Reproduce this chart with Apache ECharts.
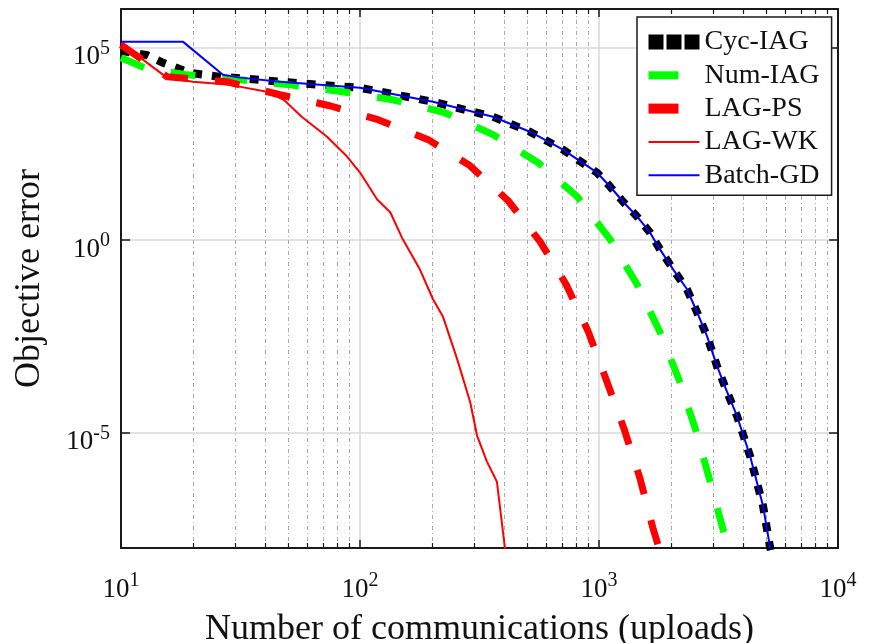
<!DOCTYPE html>
<html>
<head>
<meta charset="utf-8">
<script src="https://cdn.jsdelivr.net/npm/echarts@6/dist/echarts.min.js"></script>
<style>
  html, body { margin: 0; padding: 0; background: #fff; }
  #chart { width: 873px; height: 643px; }
</style>
</head>
<body>
<div id="chart"></div>
<script>
// ---- data (x: communications, y: objective error) ----
const seriesNames = ['Cyc-IAG', 'Num-IAG', 'LAG-PS', 'LAG-WK', 'Batch-GD'];

const cycIAG = [
  [10, 8.2e4], [12.8, 6.4e4], [15.0, 4.0e4], [19.4, 2.2e4], [26.5, 1.7e4], [31.5, 1.6e4],
  [46.2, 1.29e4], [100, 8.97e3], [202, 3.9e3], [360, 1.59e3], [514, 650], [707, 222],
  [982, 56], [1112, 24.5], [1259, 10], [1442, 4.08], [1634, 1.57], [1800, 0.57],
  [2042, 0.173], [2335, 0.0525], [2572, 0.0133], [2831, 3.18e-3], [3118, 5.3e-4],
  [3434, 1.13e-4], [3779, 2.69e-5], [4284, 2.48e-6], [4855, 1.25e-7], [5190, 1.1e-8], [5250, 8e-9]
];

const numIAG = [
  [10, 5.4e4], [12.6, 2.96e4], [18.9, 1.95e4], [31.5, 1.45e4], [50.9, 1.07e4], [84.9, 7.08e3],
  [137, 4.39e3], [227, 2.02e3], [360, 545], [556, 102], [809, 13.5], [1112, 1.04],
  [1442, 0.0708], [1800, 4.04e-3], [2163, 2.31e-4], [2546, 1.1e-5], [2911, 5.6e-7],
  [3467, 1.0e-8], [3520, 7e-9]
];

const lagPS = [
  [10, 1.17e5], [15.6, 1.73e4], [27.8, 1.29e4], [46.2, 5.92e3], [74.8, 3.07e3], [119, 1.33e3],
  [193, 404], [288, 85.7], [416, 10.6], [566, 0.92], [728, 0.0708], [900, 4.29e-3],
  [1069, 2.45e-4], [1273, 1.24e-5], [1486, 6.28e-7], [1683, 3.2e-8], [1782, 1.0e-8], [1810, 7e-9]
];

const lagWK = [
  [10, 1.3e5], [15.6, 1.63e4], [20.0, 1.29e4], [28.6, 1.07e4], [40.8, 7.08e3], [48, 4.39e3],
  [57, 1.59e3], [72.8, 483], [88.3, 147], [100, 56.4], [118, 11.3], [134, 5.19], [151, 1.04],
  [178, 0.173], [202, 0.0289], [222, 0.0105], [255, 8.07e-4], [289, 6.2e-5], [309, 8.2e-6],
  [340, 1.73e-6], [374, 5.25e-7], [404, 1.0e-8], [406, 7e-9]
];

const batchGD = [
  [10, 1.4e5], [18.2, 1.4e5], [26.7, 1.95e4], [31.5, 1.65e4], [46.2, 1.29e4], [100, 8.97e3],
  [202, 3.9e3], [360, 1.59e3], [514, 650], [707, 222], [982, 56], [1112, 24.5], [1259, 10],
  [1442, 4.08], [1634, 1.57], [1800, 0.57], [2042, 0.173], [2335, 0.0525], [2572, 0.0133],
  [2831, 3.18e-3], [3118, 5.3e-4], [3434, 1.13e-4], [3779, 2.69e-5], [4284, 2.48e-6],
  [4855, 1.25e-7], [5190, 1.1e-8], [5250, 8e-9]
];

// ---- axis ticks ----
const xMajorTicks = [10, 100, 1000, 10000];
const xMinorTicks = [20, 30, 40, 50, 60, 70, 80, 90,
                     200, 300, 400, 500, 600, 700, 800, 900,
                     2000, 3000, 4000, 5000, 6000, 7000, 8000, 9000];
const yMajorTicks = [1e-5, 1, 1e5];
const xRange = [10, 10000];
const yRange = [1e-8, 1e6];

const FONT = 'Liberation Serif';
const AXIS_COLOR = '#1a1a1a';

function powLabel(v) {
  const e = Math.round(Math.log10(v));
  return '{b|10}{s|' + e + '}';
}
const labelRich = {
  b: { fontFamily: FONT, fontSize: 27, lineHeight: 32, verticalAlign: 'bottom', color: '#111' },
  s: { fontFamily: FONT, fontSize: 20, lineHeight: 20, verticalAlign: 'top', color: '#111' }
};

const gridRect = { left: 121, right: 35, top: 9, bottom: 95 };

const hiddenSymbol = { color: 'rgba(0,0,0,0)', borderWidth: 0, opacity: 0 };

const chart = echarts.init(document.getElementById('chart'), null, { renderer: 'canvas' });

const option = {
  animation: false,
  backgroundColor: '#ffffff',
  textStyle: { fontFamily: FONT },
  grid: [
    Object.assign({ containLabel: false, outerBoundsMode: 'none' }, gridRect),
    Object.assign({ containLabel: false, outerBoundsMode: 'none' }, gridRect)
  ],
  legend: {
    orient: 'vertical',
    left: 637,
    top: 17,
    padding: [11, 12, 6, 4],
    itemGap: 5.3,
    itemWidth: 51,
    itemHeight: 16,
    backgroundColor: '#ffffff',
    borderColor: AXIS_COLOR,
    borderWidth: 1.5,
    borderRadius: 0,
    textStyle: { fontFamily: FONT, fontSize: 28, lineHeight: 28, color: '#111' },
    data: [
      { name: seriesNames[0], itemStyle: hiddenSymbol, lineStyle: { width: 15, type: [15, 3], cap: 'butt' } },
      { name: seriesNames[1], itemStyle: hiddenSymbol, lineStyle: { width: 8, type: [30, 30], cap: 'butt' } },
      { name: seriesNames[2], itemStyle: hiddenSymbol, lineStyle: { width: 10, type: [30, 30], cap: 'butt' } },
      { name: seriesNames[3], itemStyle: hiddenSymbol, lineStyle: { width: 2 } },
      { name: seriesNames[4], itemStyle: hiddenSymbol, lineStyle: { width: 2 } }
    ]
  },
  xAxis: [
    {
      type: 'log', logBase: 10, gridIndex: 0, position: 'bottom',
      min: xRange[0], max: xRange[1],
      name: 'Number of communications (uploads)',
      nameLocation: 'middle', nameGap: 64,
      nameTextStyle: { fontFamily: FONT, fontSize: 36, color: '#111' },
      axisLine: { show: true, onZero: false, lineStyle: { color: AXIS_COLOR, width: 2 } },
      axisTick: { show: true, inside: true, length: 8, customValues: xMajorTicks, lineStyle: { color: AXIS_COLOR, width: 1.5 } },
      axisLabel: { show: true, margin: 23, customValues: xMajorTicks, formatter: powLabel, rich: labelRich },
      splitLine: { show: true, lineStyle: { color: '#d9d9d9', width: 1.5, type: 'solid' } },
      minorTick: { show: false }
    },
    {
      type: 'log', logBase: 10, gridIndex: 0, position: 'top',
      min: xRange[0], max: xRange[1],
      axisLine: { show: true, onZero: false, lineStyle: { color: AXIS_COLOR, width: 2 } },
      axisTick: { show: true, inside: true, length: 8, customValues: xMajorTicks, lineStyle: { color: AXIS_COLOR, width: 1.5 } },
      axisLabel: { show: false },
      splitLine: { show: false }
    },
    {
      type: 'log', logBase: 10, gridIndex: 1, position: 'bottom',
      min: xRange[0], max: xRange[1],
      axisLine: { show: false },
      axisTick: { show: true, inside: true, length: 5, customValues: xMinorTicks, lineStyle: { color: AXIS_COLOR, width: 1.2 } },
      axisLabel: { show: false },
      splitLine: { show: true, lineStyle: { color: '#a9a9a9', width: 1, type: [4, 3, 1, 3] } }
    },
    {
      type: 'log', logBase: 10, gridIndex: 1, position: 'top',
      min: xRange[0], max: xRange[1],
      axisLine: { show: false },
      axisTick: { show: true, inside: true, length: 5, customValues: xMinorTicks, lineStyle: { color: AXIS_COLOR, width: 1.2 } },
      axisLabel: { show: false },
      splitLine: { show: false }
    }
  ],
  yAxis: [
    {
      type: 'log', logBase: 10, gridIndex: 0, position: 'left',
      min: yRange[0], max: yRange[1],
      name: 'Objective error',
      nameLocation: 'middle', nameGap: 73, nameRotate: 90,
      nameTextStyle: { fontFamily: FONT, fontSize: 36, color: '#111' },
      axisLine: { show: true, onZero: false, lineStyle: { color: AXIS_COLOR, width: 2 } },
      axisTick: { show: true, inside: true, length: 9, customValues: yMajorTicks, lineStyle: { color: AXIS_COLOR, width: 1.5 } },
      axisLabel: { show: true, margin: 11, customValues: yMajorTicks, formatter: powLabel, rich: labelRich, padding: [14, 0, 0, 0] },
      splitLine: { show: true, lineStyle: { color: '#d9d9d9', width: 1.5, type: 'solid' } }
    },
    {
      type: 'log', logBase: 10, gridIndex: 0, position: 'right',
      min: yRange[0], max: yRange[1],
      axisLine: { show: true, onZero: false, lineStyle: { color: AXIS_COLOR, width: 2 } },
      axisTick: { show: true, inside: true, length: 9, customValues: yMajorTicks, lineStyle: { color: AXIS_COLOR, width: 1.5 } },
      axisLabel: { show: false },
      splitLine: { show: false }
    },
    {
      type: 'log', logBase: 10, gridIndex: 1, position: 'left',
      min: yRange[0], max: yRange[1],
      show: false
    }
  ],
  series: [
    {
      name: seriesNames[0], type: 'line', xAxisIndex: 0, yAxisIndex: 0,
      data: cycIAG, showSymbol: false, symbol: 'none', clip: true,
      lineStyle: { color: '#000000', width: 8, type: [9, 10], cap: 'butt' },
      itemStyle: { color: '#000000' }
    },
    {
      name: seriesNames[1], type: 'line', xAxisIndex: 0, yAxisIndex: 0,
      data: numIAG, showSymbol: false, symbol: 'none', clip: true,
      lineStyle: { color: '#00ff00', width: 7, type: [25, 27], cap: 'butt' },
      itemStyle: { color: '#00ff00' }
    },
    {
      name: seriesNames[2], type: 'line', xAxisIndex: 0, yAxisIndex: 0,
      data: lagPS, showSymbol: false, symbol: 'none', clip: true,
      lineStyle: { color: '#ff0000', width: 7, type: [25, 27], cap: 'butt' },
      itemStyle: { color: '#ff0000' }
    },
    {
      name: seriesNames[3], type: 'line', xAxisIndex: 0, yAxisIndex: 0,
      data: lagWK, showSymbol: false, symbol: 'none', clip: true,
      lineStyle: { color: '#ff0000', width: 2 },
      itemStyle: { color: '#ff0000' }
    },
    {
      name: seriesNames[4], type: 'line', xAxisIndex: 0, yAxisIndex: 0,
      data: batchGD, showSymbol: false, symbol: 'none', clip: true,
      lineStyle: { color: '#0000ff', width: 2 },
      itemStyle: { color: '#0000ff' }
    }
  ]
};

chart.setOption(option);
</script>
</body>
</html>
